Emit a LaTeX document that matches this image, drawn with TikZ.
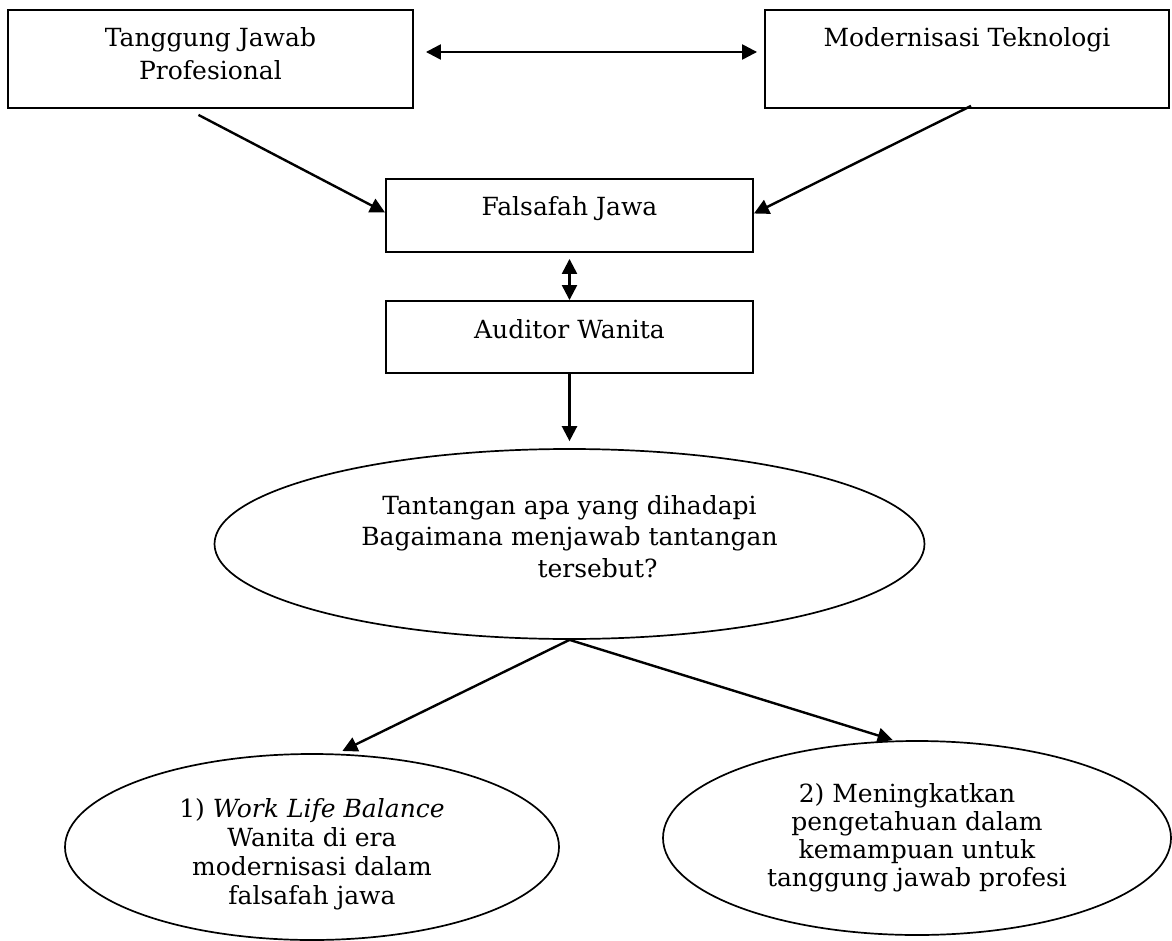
\documentclass[tikz,border=0pt]{standalone}
\usepackage{fontspec}
\setmainfont{DejaVu Serif}
\usetikzlibrary{shapes.geometric,arrows.meta}

\tikzset{
  kotak/.style={draw, rectangle, line width=1.9pt, align=center,
    inner xsep=0pt, inner ysep=0pt, text height=37pt},
  elips/.style={draw, ellipse, line width=1.7pt, align=center, inner sep=0pt},
  panah/.style={line width=2.4pt, -{Triangle[length=15pt,width=15pt]}},
  panahdua/.style={line width=2.4pt,
    {Triangle[length=15pt,width=15pt]}-{Triangle[length=15pt,width=15pt]}}
}

\begin{document}
\begin{tikzpicture}[x=1pt,y=-1pt,font=\fontsize{25}{33}\selectfont]
\useasboundingbox (0,0) rectangle (1172,941);

% kotak atas
\node[kotak, minimum width=405pt, text height=70pt, text depth=28pt] (tjp) at (210.5,59) {Tanggung Jawab\\Profesional};
\node[kotak, minimum width=404pt, text depth=61pt] (mt) at (967,59) {Modernisasi Teknologi};
\node[kotak, minimum width=367pt, text depth=36pt] (fj) at (569.5,215.5) {Falsafah Jawa};
\node[kotak, minimum width=367pt, text depth=35pt] (aw) at (569.5,337) {Auditor Wanita};

% elips
\node[elips, minimum width=710pt, minimum height=190pt, text height=82pt, text depth=16pt,
  font=\fontsize{25}{31.5}\selectfont] (tanya) at (569.5,544)
  {Tantangan apa yang dihadapi\\Bagaimana menjawab tantangan\\\hspace*{56pt}tersebut?};
\node[elips, minimum width=494pt, minimum height=186pt, text height=120pt, text depth=5pt,
  font=\fontsize{25}{29}\selectfont] (wlb) at (312,847)
  {1) \textit{Work Life Balance}\\Wanita di era\\modernisasi dalam\\falsafah jawa};
\node[elips, minimum width=508pt, minimum height=194pt, font=\fontsize{25}{28}\selectfont] (tingkat) at (917,838)
  {2) Meningkatkan\hspace*{20pt}\\pengetahuan dalam\\kemampuan untuk\\tanggung jawab profesi};

\path[panahdua]
  ([yshift=7pt]tjp.east) edge[shorten <=12pt, shorten >=7pt] ([yshift=7pt]mt.west)
  (fj.south) edge[shorten <=6pt] (aw.north);
\path[panah]
  ([xshift=-12pt,yshift=-6pt]tjp.south) edge ([yshift=3pt]fj.west)
  ([xshift=4pt,yshift=3pt]mt.south) edge ([yshift=2pt]fj.east)
  (aw.south) edge[shorten >=7pt] (tanya.north)
  (tanya.south) edge[shorten >=6pt] (wlb.75)
  (tanya.south) edge[shorten >=2pt] (tingkat.103);
\end{tikzpicture}
\end{document}
